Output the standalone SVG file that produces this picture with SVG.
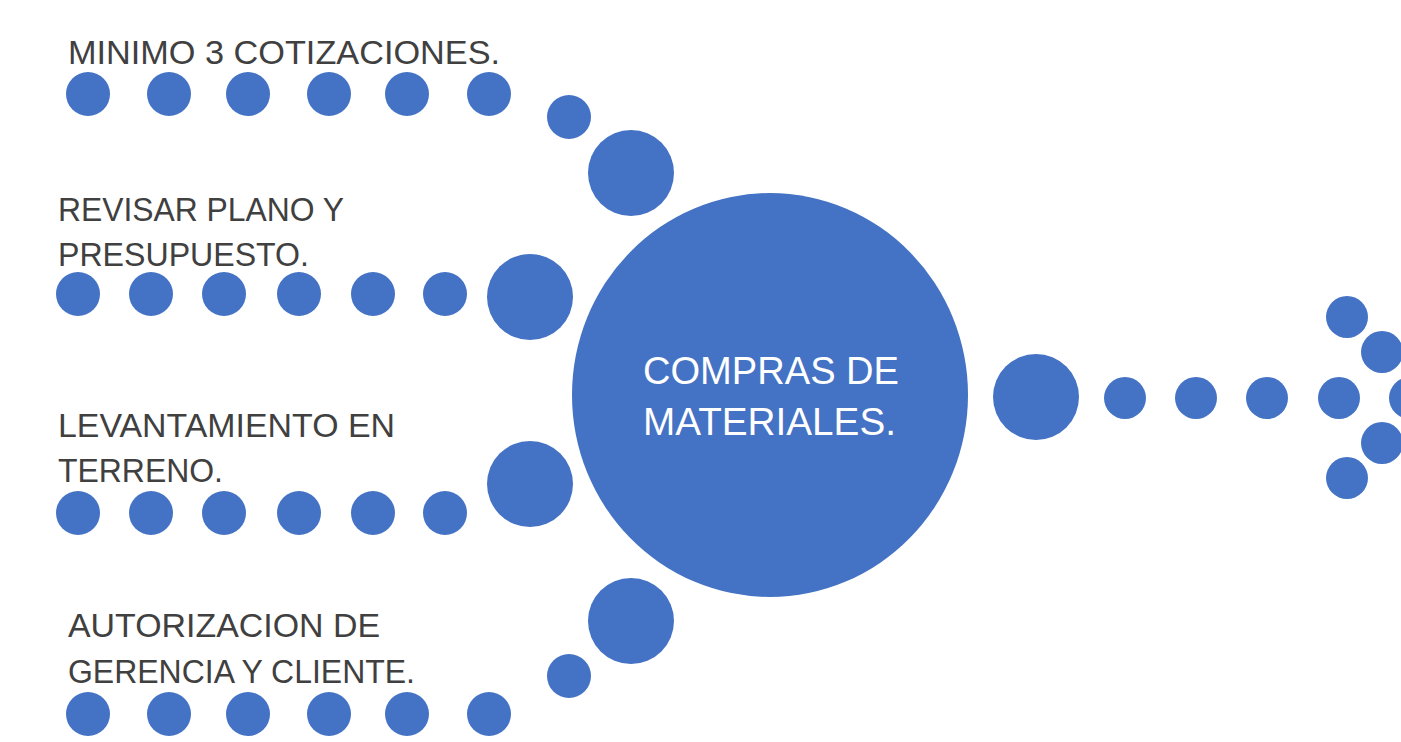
<svg xmlns="http://www.w3.org/2000/svg" width="1401" height="742" viewBox="0 0 1401 742">
<style>
.d{fill:#4472C4}
.lbl{font-family:"Liberation Sans",Arial,sans-serif;font-size:34px;fill:#404040}
.ctr{font-family:"Liberation Sans",Arial,sans-serif;font-size:39px;fill:#ffffff}
</style>
<rect width="1401" height="742" fill="#ffffff"/>
<g id="connectors">
  <g id="trail-1">
    <circle class="d" cx="88" cy="94" r="22"/>
    <circle class="d" cx="169" cy="94" r="22"/>
    <circle class="d" cx="248" cy="94" r="22"/>
    <circle class="d" cx="329" cy="94" r="22"/>
    <circle class="d" cx="407" cy="94" r="22"/>
    <circle class="d" cx="489" cy="94" r="22"/>
    <circle class="d" cx="569" cy="117" r="22"/>
    <circle class="d" cx="631" cy="173" r="43"/>
  </g>
  <g id="trail-2">
    <circle class="d" cx="78" cy="294" r="22"/>
    <circle class="d" cx="151" cy="294" r="22"/>
    <circle class="d" cx="224" cy="294" r="22"/>
    <circle class="d" cx="299" cy="294" r="22"/>
    <circle class="d" cx="373" cy="294" r="22"/>
    <circle class="d" cx="445" cy="294" r="22"/>
    <circle class="d" cx="530" cy="297" r="43"/>
  </g>
  <g id="trail-3">
    <circle class="d" cx="78" cy="513" r="22"/>
    <circle class="d" cx="151" cy="513" r="22"/>
    <circle class="d" cx="224" cy="513" r="22"/>
    <circle class="d" cx="299" cy="513" r="22"/>
    <circle class="d" cx="373" cy="513" r="22"/>
    <circle class="d" cx="445" cy="513" r="22"/>
    <circle class="d" cx="530" cy="484" r="43"/>
  </g>
  <g id="trail-4">
    <circle class="d" cx="88" cy="714" r="22"/>
    <circle class="d" cx="169" cy="714" r="22"/>
    <circle class="d" cx="248" cy="714" r="22"/>
    <circle class="d" cx="329" cy="714" r="22"/>
    <circle class="d" cx="407" cy="714" r="22"/>
    <circle class="d" cx="489" cy="714" r="22"/>
    <circle class="d" cx="569" cy="676" r="22"/>
    <circle class="d" cx="631" cy="621" r="43"/>
  </g>
  <g id="trail-out">
    <circle class="d" cx="1036" cy="397" r="43"/>
    <circle class="d" cx="1125" cy="398" r="21"/>
    <circle class="d" cx="1196" cy="398" r="21"/>
    <circle class="d" cx="1267" cy="398" r="21"/>
    <circle class="d" cx="1339" cy="398" r="21"/>
    <circle class="d" cx="1347" cy="317" r="21"/>
    <circle class="d" cx="1382" cy="352" r="21"/>
    <circle class="d" cx="1410" cy="398" r="21"/>
    <circle class="d" cx="1382" cy="443" r="21"/>
    <circle class="d" cx="1347" cy="478" r="21"/>
  </g>
</g>
<g id="node-center">
  <ellipse class="d" cx="770" cy="395" rx="198" ry="202"/>
  <text class="ctr" x="643" y="384" textLength="256" lengthAdjust="spacingAndGlyphs">COMPRAS DE</text>
  <text class="ctr" x="643" y="435" textLength="253" lengthAdjust="spacingAndGlyphs">MATERIALES.</text>
</g>
<g id="node-cotizaciones">
  <text class="lbl" x="68" y="64" textLength="432" lengthAdjust="spacingAndGlyphs">MINIMO 3 COTIZACIONES.</text>
</g>
<g id="node-revisar">
  <text class="lbl" x="58" y="221" textLength="286" lengthAdjust="spacingAndGlyphs">REVISAR PLANO Y</text>
  <text class="lbl" x="58" y="266" textLength="251" lengthAdjust="spacingAndGlyphs">PRESUPUESTO.</text>
</g>
<g id="node-levantamiento">
  <text class="lbl" x="58" y="437" textLength="337" lengthAdjust="spacingAndGlyphs">LEVANTAMIENTO EN</text>
  <text class="lbl" x="58" y="482" textLength="165" lengthAdjust="spacingAndGlyphs">TERRENO.</text>
</g>
<g id="node-autorizacion">
  <text class="lbl" x="68" y="637" textLength="312" lengthAdjust="spacingAndGlyphs">AUTORIZACION DE</text>
  <text class="lbl" x="68" y="683" textLength="347" lengthAdjust="spacingAndGlyphs">GERENCIA Y CLIENTE.</text>
</g>
</svg>
